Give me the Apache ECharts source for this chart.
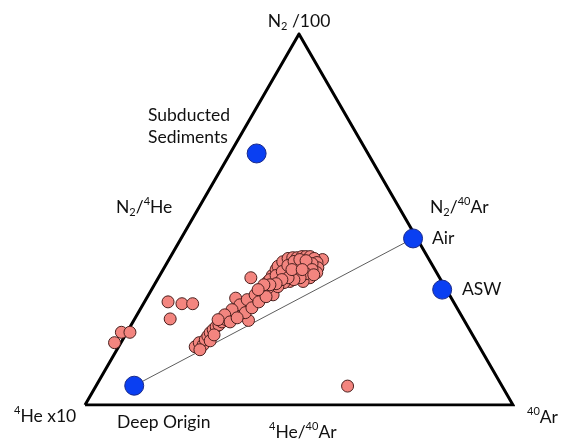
<!DOCTYPE html>
<html><head><meta charset="utf-8">
<script src="https://cdn.jsdelivr.net/npm/echarts@6/dist/echarts.min.js"></script>
<style>html,body{margin:0;padding:0;background:#fff}#c{width:564px;height:443px}</style>
</head><body><div id="c"></div>
<script>
// Ternary vertices (composition in %): 4He x10, 40Ar, N2/100
const vertexN2 = [0, 0, 100, 0];
const vertexAr = [0, 100, 0, 0];

// End members (N2 %, 40Ar %; 4He x10 is the remainder)
const endMemberNames = ['Subducted Sediments', 'Air', 'ASW', 'Deep Origin'];
const endMemberN2 = [67.8, 44.9, 31.1, 5.2];
const endMemberAr = [6.2, 54.2, 67.9, 8.9];

// Mixing line: Deep Origin -> Air
const mixN2 = [5.2, 44.9];
const mixAr = [8.9, 54.2];

// Gas samples (N2 %, 40Ar %)
const sampleN2 = [19.6, 19.6, 16.8, 27.8, 27.3, 27.3, 23.2, 34.3, 28.8, 22.8, 39.2, 5.1,
  15.7, 16.8, 16.2, 17.6, 18.6, 19.5, 20.3, 21.1, 21.6, 22.4, 23.0, 23.5, 24.1, 24.6, 25.1, 25.9,
  26.5, 27.3, 27.8, 28.6, 29.5, 30.3, 30.8, 31.6, 29.7, 30.5, 33.2, 34.9, 36.5, 37.4, 38.6, 39.5,
  39.7, 39.7, 40.0, 40.0, 40.0, 39.5, 38.4, 37.0, 35.7, 34.3, 33.3, 33.3, 34.9, 33.0, 31.9, 36.5,
  37.6, 37.0, 35.1, 37.8, 38.6, 34.3, 35.9, 38.1, 33.5, 31.6,
  27.0, 25.7, 24.3, 28.4, 29.7, 23.0, 31.4, 24.9, 26.2, 27.8, 29.2, 22.4, 23.5,
  33.8, 34.9, 36.0, 37.6, 38.7, 39.2, 38.9, 36.5, 35.4, 34.3, 33.8, 34.3, 33.8, 32.7, 32.4,
  36.5, 36.5, 35.1, 32.4, 31.1, 14.9, 17.3, 18.9];
const sampleAr = [-1.3, 0.7, -1.5, 5.5, 9.0, 11.5, 8.3, 21.6, 20.8, 26.8, 35.9, 58.8,
  17.9, 18.3, 19.5, 19.3, 19.4, 19.5, 19.8, 20.1, 20.5, 20.8, 21.5, 21.9, 22.6, 23.0, 23.6, 24.0,
  24.4, 24.9, 25.3, 25.6, 26.2, 26.5, 26.9, 27.4, 29.1, 25.6, 26.1, 26.3, 26.4, 26.4, 26.9, 27.7,
  28.7, 29.7, 30.7, 31.6, 32.6, 33.8, 35.0, 35.9, 36.3, 35.4, 34.3, 31.2, 31.9, 30.0, 29.1, 29.7,
  31.5, 33.6, 29.2, 30.2, 32.1, 28.4, 31.8, 34.0, 27.4, 27.0,
  22.7, 21.5, 20.5, 23.7, 24.9, 19.6, 25.7, 25.0, 25.9, 26.7, 27.7, 22.7, 23.8,
  26.3, 27.2, 28.1, 28.6, 29.5, 30.6, 32.2, 34.8, 33.9, 33.1, 31.9, 30.3, 29.1, 28.3, 27.0,
  30.1, 32.5, 35.9, 25.6, 24.9, 19.4, 20.6, 20.7];

// ternary (N2, Ar) -> cartesian in triangle units
function tern(n2, ar) { return [(ar + n2 / 2) / 100, n2 / 100]; }
function toXY(n2s, ars) { return n2s.map((n, i) => tern(n, ars[i])); }

const FONT = 'Lato, "Open Sans", sans-serif';
const FS = 17.5;
const rich = {
  n: { fontSize: FS, lineHeight: 22, fontFamily: FONT, color: '#111' },
  sub: { fontSize: 11, lineHeight: 11, verticalAlign: 'bottom', fontFamily: FONT, color: '#111' },
  sup: { fontSize: 11, lineHeight: 11, verticalAlign: 'top', fontFamily: FONT, color: '#111' }
};
function label(text, x, y, align) {
  return { type: 'text', x: x, y: y, z: 100,
    style: { text: text, rich: rich, font: FS + 'px ' + FONT, fill: '#111',
      textAlign: align || 'left', textVerticalAlign: 'middle' } };
}

const chart = echarts.init(document.getElementById('c'), null, { renderer: 'canvas' });
chart.setOption({
  animation: false,
  backgroundColor: '#fff',
  grid: { left: 85, top: 34, width: 428, height: 371 },
  xAxis: { type: 'value', min: 0, max: 1, show: false },
  yAxis: { type: 'value', min: 0, max: 1, show: false },
  series: [
    { type: 'line', data: toXY(vertexN2, vertexAr), symbol: 'none', z: 2,
      lineStyle: { color: '#000', width: 3, join: 'miter' } },
    { type: 'line', data: toXY(mixN2, mixAr), symbol: 'none', z: 1,
      lineStyle: { color: '#333', width: 0.8 } },
    { type: 'scatter', data: toXY(sampleN2, sampleAr), symbolSize: 12, clip: false, z: 3,
      itemStyle: { color: '#f3857f', borderColor: '#4a1f1d', borderWidth: 1, opacity: 1 } },
    { type: 'scatter', data: toXY(endMemberN2, endMemberAr), symbolSize: 19, clip: false, z: 4,
      itemStyle: { color: '#0a3ff2', borderColor: '#1a2a8a', borderWidth: 1, opacity: 1 } }
  ],
  graphic: [
    label('{n|N}{sub|2}{n| /100}', 299, 21, 'center'),
    label('{n|Subducted}', 148, 115),
    label('{n|Sediments}', 148, 137),
    label('{n|N}{sub|2}{n|/}{sup|4}{n|He}', 116, 207),
    label('{n|N}{sub|2}{n|/}{sup|40}{n|Ar}', 430, 207),
    label('{n|Air}', 432, 238),
    label('{n|ASW}', 462, 289),
    label('{sup|4}{n|He x10}', 14, 416),
    label('{n|Deep Origin}', 117, 422),
    label('{sup|4}{n|He/}{sup|40}{n|Ar}', 269, 432),
    label('{sup|40}{n|Ar}', 527, 417)
  ]
});
</script>
</body></html>
